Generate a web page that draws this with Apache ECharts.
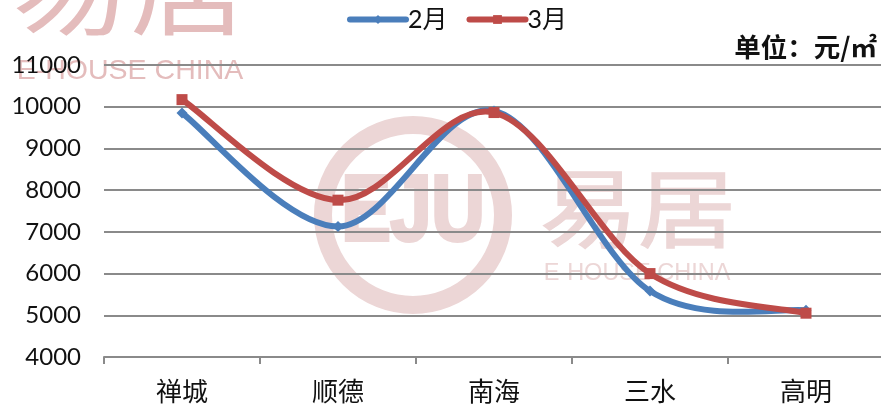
<!DOCTYPE html>
<html>
<head>
<meta charset="utf-8">
<style>html,body{margin:0;padding:0;background:#fff}#chart{width:881px;height:404px}</style>
<script src="https://cdn.jsdelivr.net/npm/echarts@6/dist/echarts.min.js"></script>
</head>
<body>
<div id="chart"></div>
<script>
const categories = ['禅城', '顺德', '南海', '三水', '高明'];
const febValues = [9850, 7130, 9900, 5580, 5120];
const marValues = [10170, 7760, 9860, 6000, 5050];
const yTicks = { min: 4000, max: 11000, interval: 1000 };

const cjk = '"Noto Sans CJK SC"';
const latin = 'Lato, "Noto Sans CJK SC"';
const markTint = '#e4bcbc';
const softTint = '#ecd6d6';
const febColor = '#4a7ebb';
const marColor = '#be4b48';
const curveWidth = 6;

// Brand watermark behind the plot
const watermark = [
  { type: 'text', z: 0, x: 130, y: -12, scaleY: 0.88, style: { text: '易居', x: 0, y: 0, align: 'center', verticalAlign: 'middle', font: '118px ' + cjk, fill: markTint } },
  { type: 'text', z: 0, style: { text: 'E-HOUSE CHINA', x: 130, y: 71, align: 'center', verticalAlign: 'middle', font: '28.5px Liberation Sans', fill: markTint } },
  { type: 'circle', z: 0, shape: { cx: 413, cy: 215, r: 90 }, style: { fill: 'none', stroke: softTint, lineWidth: 18 } },
  { type: 'text', z: 0, x: 413, y: 215, scaleX: 0.8, style: { text: 'EJU', x: 0, y: 0, align: 'center', verticalAlign: 'middle', font: 'bold 92px Liberation Sans', fill: softTint, stroke: softTint, lineWidth: 4 } },
  { type: 'text', z: 0, x: 638, y: 208, scaleY: 0.88, style: { text: '易居', x: 0, y: 0, align: 'center', verticalAlign: 'middle', font: '98px ' + cjk, fill: softTint, stroke: softTint, lineWidth: 1.5 } },
  { type: 'text', z: 0, style: { text: 'E-HOUSE CHINA', x: 637, y: 274, align: 'center', verticalAlign: 'middle', font: '23.5px Liberation Sans', fill: softTint } },
  { type: 'text', z: 5, style: { text: '单位：元/㎡', x: 877, y: 47, align: 'right', verticalAlign: 'middle', font: 'bold 26.5px ' + cjk, fill: '#111' } }
];

// Spreadsheet-style smoothing: a Catmull-Rom spline through the projected values
function splinePath(pts) {
  let d = `M${pts[0][0]} ${pts[0][1]}`;
  for (let i = 0; i < pts.length - 1; i++) {
    const a = pts[Math.max(i - 1, 0)], b = pts[i], c = pts[i + 1], e = pts[Math.min(i + 2, pts.length - 1)];
    const c1 = [b[0] + (c[0] - a[0]) / 6, b[1] + (c[1] - a[1]) / 6];
    const c2 = [c[0] - (e[0] - b[0]) / 6, c[1] - (e[1] - b[1]) / 6];
    d += `C${c1[0]} ${c1[1]} ${c2[0]} ${c2[1]} ${c[0]} ${c[1]}`;
  }
  return d;
}

function curveSeries(name, values, color, z) {
  return {
    name: name + '曲线', type: 'custom', z, silent: true,
    coordinateSystem: 'cartesian2d', clip: false,
    encode: { x: 0, y: 1 },
    data: values.map((v, i) => [i, v]),
    renderItem(params, api) {
      if (params.dataIndex !== values.length - 1) return null;
      const pts = values.map((v, i) => api.coord([i, v]));
      return {
        type: 'path',
        shape: { pathData: splinePath(pts) },
        style: { fill: 'none', stroke: color, lineWidth: curveWidth, lineCap: 'round', lineJoin: 'round' }
      };
    }
  };
}

function markerSeries(name, values, color, symbol, size, z) {
  return {
    name, data: values, type: 'line', z,
    symbol, symbolSize: size, showAllSymbol: true,
    lineStyle: { color, width: 0, opacity: 0 },
    itemStyle: { color }
  };
}

const chart = echarts.init(document.getElementById('chart'), null, { renderer: 'canvas' });
chart.setOption({
  animation: false,
  backgroundColor: '#fff',
  graphic: watermark,
  grid: { left: 104, width: 780, top: 65, bottom: 47, outerBoundsMode: 'none' },
  legend: {
    top: 7, left: 347, padding: 0, itemWidth: 56, itemHeight: 11, itemGap: 19,
    lineStyle: { width: curveWidth, cap: 'round', opacity: 1 },
    textStyle: { fontFamily: latin, fontSize: 25, color: '#111', padding: [0, 0, 0, -3] },
    data: ['2月', '3月']
  },
  xAxis: {
    type: 'category', data: categories, boundaryGap: true,
    axisLine: { lineStyle: { color: '#8a8a8a', width: 2 } },
    axisTick: { show: true, length: 7, lineStyle: { color: '#8a8a8a', width: 2 } },
    axisLabel: { fontFamily: cjk, fontSize: 26, color: '#111', margin: 21 }
  },
  yAxis: {
    type: 'value', min: yTicks.min, max: yTicks.max, interval: yTicks.interval,
    axisLine: { show: false }, axisTick: { show: false },
    axisLabel: { fontFamily: latin, fontSize: 24, color: '#111', margin: 23, showMaxLabel: true, formatter: v => String(v) },
    splitLine: { lineStyle: { color: '#8a8a8a', width: 2 } }
  },
  series: [
    curveSeries('2月', febValues, febColor, 2),
    markerSeries('2月', febValues, febColor, 'diamond', 11, 3),
    curveSeries('3月', marValues, marColor, 4),
    markerSeries('3月', marValues, marColor, 'rect', 11, 5)
  ]
});
</script>
</body>
</html>
